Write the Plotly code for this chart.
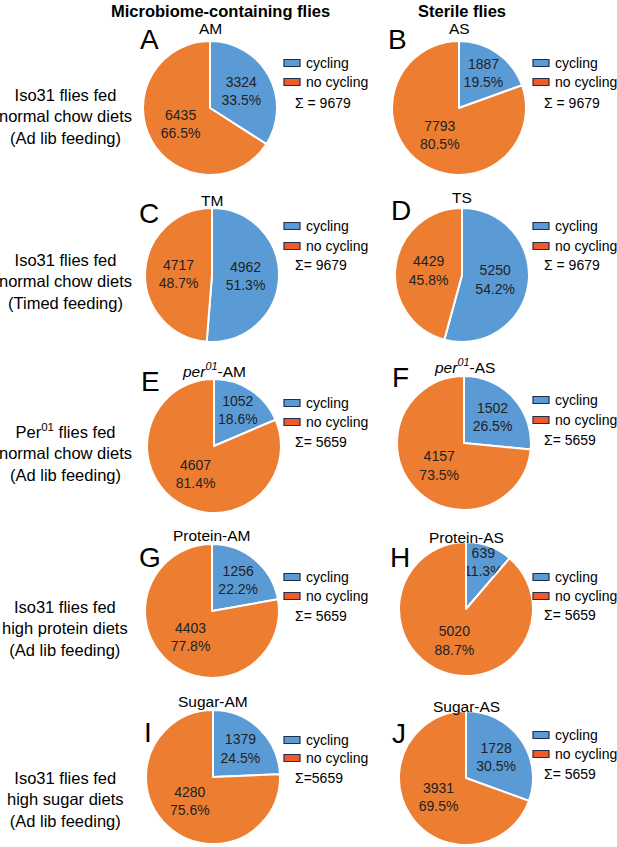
import plotly.graph_objects as go

# ---------------- data ----------------
categories = ["cycling", "no cycling"]
panel_letters = ["A", "B", "C", "D", "E", "F", "G", "H", "I", "J"]
panel_titles = ["AM", "AS", "TM", "TS",
                "<i>per</i><sup><i>01</i></sup>-AM", "<i>per</i><sup><i>01</i></sup>-AS",
                "Protein-AM", "Protein-AS", "Sugar-AM", "Sugar-AS"]
cycling = [3324, 1887, 4962, 5250, 1052, 1502, 1256, 639, 1379, 1728]
no_cycling = [6435, 7793, 4717, 4429, 4607, 4157, 4403, 5020, 4280, 3931]
cycling_pct = ["33.5%", "19.5%", "51.3%", "54.2%", "18.6%", "26.5%", "22.2%", "11.3%", "24.5%", "30.5%"]
no_cycling_pct = ["66.5%", "80.5%", "48.7%", "45.8%", "81.4%", "73.5%", "77.8%", "88.7%", "75.6%", "69.5%"]
totals = ["Σ = 9679", "Σ = 9679", "Σ= 9679", "Σ = 9679",
          "Σ= 5659", "Σ= 5659", "Σ= 5659", "Σ= 5659", "Σ=5659", "Σ= 5659"]
column_headers = ["Microbiome-containing flies", "Sterile flies"]
row_labels = [
    "Iso31 flies fed<br>normal chow diets<br>(Ad lib feeding)",
    "Iso31 flies fed<br>normal chow diets<br>(Timed feeding)",
    "Per<sup>01</sup> flies fed<br>normal chow diets<br>(Ad lib feeding)",
    "Iso31 flies fed<br>high protein diets<br>(Ad lib feeding)",
    "Iso31 flies fed<br>high sugar diets<br>(Ad lib feeding)",
]

# ---------------- styling / layout (pixels) ----------------
W, H = 617, 847
FONT = "Liberation Sans, Arial, sans-serif"
pie_colors = ["#5B9BD5", "#ED7D31"]
legend_colors = ["#5B9BD5", "#F05A28"]
R = 67
pie_centers = [(210, 108), (459, 108), (212, 275), (462, 275), (214, 446),
               (464, 443), (212, 611), (466, 609), (213, 777), (466, 778)]
title_y = [28, 28, 200, 198, 370, 366, 535, 537, 701, 706]
letter_pos = [(149, 40), (397, 40), (149, 213), (401, 211), (150, 381),
              (400, 377), (150, 557), (400, 557), (148, 732), (399, 733)]
legend_y = [(63, 82, 103), (63, 82, 103), (226, 246, 265), (226, 246, 265),
            (403, 422, 442), (400, 420, 440), (577, 596, 616), (577, 596, 615),
            (740, 758, 778), (735, 754, 774)]
header_pos = [(220, 11), (462, 11)]
row_label_pos = [(65, 116), (65, 281), (65, 452), (65, 628), (65, 799)]


def px(x):
    return x / W


def py(y):
    return 1 - y / H


fig = go.Figure()
annotations = []
shapes = []

for i in range(10):
    cx, cy = pie_centers[i]
    fig.add_trace(go.Pie(
        labels=categories,
        values=[cycling[i], no_cycling[i]],
        text=[cycling_pct[i], no_cycling_pct[i]],
        texttemplate="%{value}<br>%{text}",
        textposition="inside",
        insidetextorientation="horizontal",
        textfont=dict(family=FONT, size=14, color="#222222"),
        marker=dict(colors=pie_colors, line=dict(color="white", width=2)),
        sort=False,
        direction="clockwise",
        rotation=0,
        showlegend=False,
        hoverinfo="skip",
        domain=dict(x=[px(cx - R), px(cx + R)], y=[py(cy + R), py(cy - R)]),
    ))
    # title
    annotations.append(dict(text=panel_titles[i], x=px(cx), y=py(title_y[i]),
                            xref="paper", yref="paper", showarrow=False,
                            xanchor="center", yanchor="middle",
                            font=dict(family=FONT, size=15.5, color="black")))
    # panel letter
    lx, ly = letter_pos[i]
    annotations.append(dict(text=panel_letters[i], x=px(lx), y=py(ly),
                            xref="paper", yref="paper", showarrow=False,
                            xanchor="center", yanchor="middle",
                            font=dict(family=FONT, size=28, color="black")))
    # legend
    sx = 284 if i % 2 == 0 else 533
    for k in range(2):
        yy = legend_y[i][k]
        shapes.append(dict(type="rect", xref="paper", yref="paper",
                           x0=px(sx), x1=px(sx + 16), y0=py(yy + 3.5), y1=py(yy - 3.5),
                           fillcolor=legend_colors[k],
                           line=dict(color="#1F2F4A", width=1.2)))
        annotations.append(dict(text=categories[k], x=px(sx + 20), y=py(yy),
                                xref="paper", yref="paper", showarrow=False,
                                xanchor="left", yanchor="middle",
                                font=dict(family=FONT, size=14, color="black")))
    annotations.append(dict(text=totals[i], x=px(sx + 9), y=py(legend_y[i][2]),
                            xref="paper", yref="paper", showarrow=False,
                            xanchor="left", yanchor="middle",
                            font=dict(family=FONT, size=14, color="black")))

for j, h in enumerate(column_headers):
    hx, hy = header_pos[j]
    annotations.append(dict(text="<b>" + h + "</b>", x=px(hx), y=py(hy),
                            xref="paper", yref="paper", showarrow=False,
                            xanchor="center", yanchor="middle",
                            font=dict(family=FONT, size=16.5, color="black")))

for j, lab in enumerate(row_labels):
    rx, ry = row_label_pos[j]
    annotations.append(dict(text=lab, x=px(rx), y=py(ry),
                            xref="paper", yref="paper", showarrow=False,
                            xanchor="center", yanchor="middle", align="center",
                            font=dict(family=FONT, size=16.5, color="black")))

fig.update_layout(
    width=W, height=H,
    margin=dict(l=0, r=0, t=0, b=0),
    paper_bgcolor="white", plot_bgcolor="white",
    annotations=annotations, shapes=shapes,
    uniformtext=dict(minsize=14, mode="show"),
    showlegend=False,
)

fig.write_html(
    "out.html",
    config={"displayModeBar": False},
    post_script="document.body.style.margin='0px';document.body.style.overflow='hidden';",
)
